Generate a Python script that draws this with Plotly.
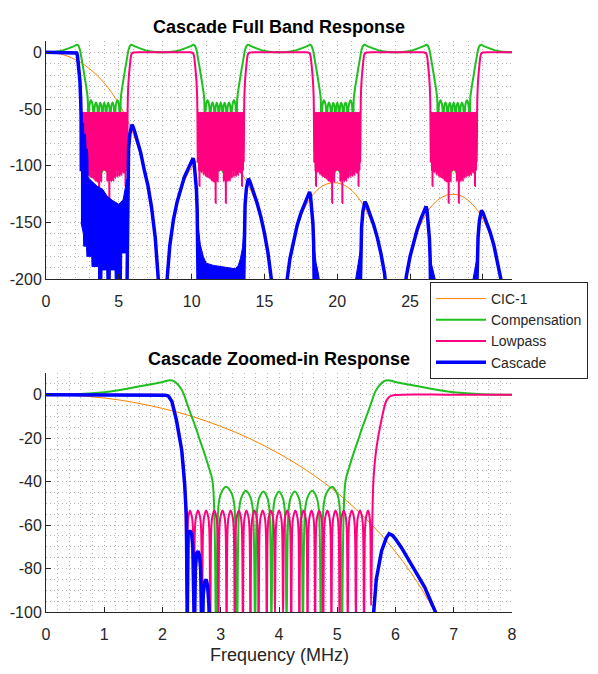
import plotly.graph_objects as go

# ---- values (frequency in MHz, magnitude in dB) ----

# CIC-1 response, full band
cic_f = [0, 0.5, 1, 1.5, 2, 2.5, 3, 3.5, 4, 4.5, 5, 5.5, 6, 6.5, 7, 7.5, 7.75, 8, 8.25,
         8.5, 9, 9.5, 10, 10.5, 11, 11.5, 12, 12.5, 13, 13.5, 14, 14.5, 15, 15.5, 16,
         16.5, 17, 17.5, 18, 18.5, 19, 19.5, 20, 20.5, 21, 21.5, 22, 22.5, 23, 23.5, 24,
         24.5, 25, 25.5, 26, 26.5, 27, 27.5, 28, 28.5, 29, 29.5, 30, 30.5, 31, 31.5, 32]
cic_db = [0, -0.4, -1.5, -3.5, -6.3, -9.9, -14.6, -20.2, -27.1, -35.3, -45.2, -57.3, -72.3,
          -91.7, -118.7, -163.7, -207, -300, -211,
          -170.9, -133.2, -113.6, -101.8, -94.6, -90.8, -89.6, -90.7, -94.1, -99.8, -108.1,
          -119.8, -136.3, -160.6, -203.2, -300,
          -206.2, -166.6, -145.3, -131.8, -123.2, -117.9, -115.4, -115.2, -117.4, -121.9,
          -129.2, -139.9, -155.3, -178.7, -220.3, -300,
          -221.6, -181.2, -159.0, -144.8, -135.4, -129.4, -126.1, -125.3, -126.7, -130.6,
          -137.2, -147.2, -162.0, -184.8, -225.8, -300]

# compensation filter, one 8 MHz period (repeats across the band)
comp_fall_f = [0, 0.5, 1.0, 1.5, 1.8, 2.0, 2.1, 2.2, 2.33, 2.42, 2.5, 2.57, 2.64, 2.72, 2.79, 2.86]
comp_fall_db = [0, 0.2, 1.1, 3.3, 4.8, 5.9, 6.6, 6.2, 2.3, -4, -10, -15, -20.8, -27, -33, -40]
comp_null_f = [2.92, 3.28, 3.59, 3.87, 4.13, 4.41, 4.72, 5.08]
comp_null_db = [-107, -110, -108, -106, -106, -108, -110, -107]
comp_peak_f = [3.09, 3.43, 3.73, 4.0, 4.27, 4.57, 4.91]
comp_peak_db = [-42.3, -44.2, -44.5, -44.5, -44.5, -44.2, -42.3]
comp_rise_f = [5.14, 5.21, 5.28, 5.36, 5.43, 5.5, 5.58, 5.67, 5.8, 5.9, 6.0, 6.2, 6.5, 7.0, 7.5, 8.0]
comp_rise_db = [-40, -33, -27, -20.8, -15, -10, -4, 2.3, 6.2, 6.6, 5.9, 4.8, 3.3, 1.1, 0.2, 0]

# lowpass filter, one 8 MHz period
lp_fall_f = [0, 1.0, 1.8, 2.0, 2.1, 2.16, 2.24, 2.33, 2.38]
lp_fall_db = [0, 0, 0, -0.1, -0.8, -3, -11.5, -25, -40]
lp_null_f = [2.42, 2.54, 2.68, 2.82, 2.96, 3.10, 3.24, 3.38, 3.51, 3.65, 3.79, 3.93,
             4.07, 4.21, 4.35, 4.49, 4.62, 4.76, 4.90, 5.04, 5.18, 5.32, 5.46, 5.58]
lp_null_db = [-97, -118, -106, -108, -109, -110, -111, -113, -114, -133, -114, -103,
              -103, -114, -133, -114, -113, -111, -110, -109, -108, -106, -118, -97]
lp_peak_f = [2.47, 2.61, 2.75, 2.89, 3.03, 3.17, 3.31, 3.44, 3.58, 3.72, 3.86, 4.00,
             4.14, 4.28, 4.42, 4.56, 4.69, 4.83, 4.97, 5.11, 5.25, 5.39, 5.53]
lp_peak_db = [-53.3, -53.3, -53.3, -53.3, -53.3, -53.3, -53.3, -53.3, -53.3, -53.3, -53.3, -53.3,
              -53.3, -53.3, -53.3, -53.3, -53.3, -53.3, -53.3, -53.3, -53.3, -53.3, -53.3]
lp_rise_f = [5.62, 5.67, 5.76, 5.84, 5.9, 6.0, 7.0, 8.0]
lp_rise_db = [-40, -25, -11.5, -3, -0.8, -0.1, 0, 0]
# solid-looking body of the stopband ripple in the full band view
lp_body_f = [2.44, 5.56]
lp_body_db = [-53.3, -104]

# shape of one stopband lobe: position between top and null, dB below the top
lobe_frac = [0.5, 0.75]
lobe_drop = [3.0, 8.3]

# cascade (None = gap where it sits below the plot)
cas_f = [0, 1.0, 1.8, 2.0, 2.05, 2.1, 2.16, 2.24, 2.33, 2.38, 2.41, 2.425,
         2.44, 2.47, 2.5, 2.52, 2.535, 2.548, 2.565, 2.585, 2.61, 2.635, 2.655, 2.68,
         2.70, 2.725, 2.75, 2.775, 2.795, 2.82, 2.9, None,
         5.56, 5.58, 5.6, 5.62, 5.67, 5.76, 5.84, 5.89, 5.95, 6.0, 6.1, 6.2, 6.36, 6.5, 6.75,
         7.0, 7.25, 7.5, 7.75, 8.0,
         8.25, 8.5, 8.75, 9.0, 9.5, 10.0, 10.1, 10.16, 10.24, 10.33, 10.38, 10.42, 10.45, None,
         13.58, 13.62, 13.67, 13.76, 13.84, 13.9, 14.0, 14.25, 14.5, 14.75, 15.0, 15.25, 15.5,
         15.75, 16.0,
         16.25, 16.5, 16.75, 17.0, 17.25, 17.5, 17.75, 18.0, 18.1, 18.16, 18.24, 18.33, 18.38,
         18.42, None,
         21.58, 21.62, 21.67, 21.76, 21.84, 21.9, 22.0, 22.25, 22.5, 22.75, 23.0, 23.25, 23.5, 24.0,
         24.5, 24.75, 25.0, 25.25, 25.5, 25.75, 26.0, 26.1, 26.16, 26.24, 26.33, 26.38, 26.42, None,
         29.58, 29.62, 29.67, 29.76, 29.84, 29.9, 30.0, 30.25, 30.5, 30.75, 31.0, 31.25, 31.5, 32.0]
cas_db = [0, 0, 0, 0, -0.2, -0.6, -3, -11.8, -25.5, -41, -56, -105,
          -64, -62.5, -64, -70, -85, -110, -80, -73, -72, -74, -80, -120,
          -92, -86, -85, -88, -96, -140, -175, None,
          -210, -170, -125, -102, -85, -72, -66, -64, -64.8, -66.4, -70.3, -75, -82, -88.5, -104,
          -117.6, -137, -163.4, -207, -300,
          -211, -170.6, -147.7, -132.1, -110.1, -95.9, -93.4, -96.2, -105.3, -121, -138.5, -160,
          -210, None,
          -200, -152, -134.7, -120.2, -112.6, -111.4, -113.9, -122.9, -133.1, -145, -159.5, -177.6,
          -203, -250, -300,
          -250, -206, -182.1, -165.5, -152.5, -142.1, -133.3, -125.9, -123.2, -126.1, -135.3,
          -151.2, -168.8, -210, None,
          -210, -172, -154.7, -140.5, -133, -131.8, -134, -142.4, -152.1, -163.5, -177.6, -195.2,
          -220, -300,
          -221.6, -197.1, -180.1, -166.7, -155.8, -146.7, -138.9, -136, -139, -148.5, -164.6,
          -182.4, -220, None,
          -210, -180.4, -163.1, -148.8, -141, -139.5, -141.3, -149.4, -158.8, -169.9, -183.7,
          -200.9, -225, -300]

# cascade, dense stopband clutter seen in the full band view (outline edges)
clutA_top_f = [2.40, 2.6, 3.0, 3.5, 3.9, 4.2, 4.6, 5.0, 5.3, 5.45, 5.55, 5.62]
clutA_top_db = [-60, -106, -112, -118, -121, -127, -131, -134, -130, -118, -112, -111]
clutA_bot_f = [5.62, 5.2, 5.18, 4.76, 4.74, 4.42, 4.4, 4.19, 4.17, 3.85, 3.83, 3.62, 3.6,
               3.16, 3.14, 2.81, 2.79, 2.59, 2.57, 2.40]
clutA_bot_db = [-177, -177, -210, -210, -192, -192, -210, -210, -192, -192, -210, -210, -189,
                -189, -180, -180, -171, -171, -160, -150]
clutB_f = [10.42, 10.5, 10.6, 10.8, 11.0, 11.5, 12.0, 12.5, 13.0, 13.2, 13.35, 13.5, 13.6]
clutB_db = [-150, -160, -170, -180, -186, -188, -189, -190, -191, -188, -182, -172, -155]
clutC1_f = [18.38, 18.45, 18.55, 18.7, 18.82]
clutC1_db = [-168, -178, -186, -195, -205]
clutC2_f = [21.2, 21.32, 21.45, 21.55, 21.62]
clutC2_db = [-205, -196, -186, -178, -172]
clutD1_f = [26.38, 26.5, 26.65, 26.82]
clutD1_db = [-182, -188, -196, -205]
clutD2_f = [29.25, 29.4, 29.52, 29.62]
clutD2_db = [-205, -196, -188, -180]

names = ['CIC-1', 'Compensation', 'Lowpass', 'Cascade']
colors = ['#FF7F00', '#1FBF1F', '#FF0080', '#0000FF']
widths = [1, 2, 2, 3.5]
shapes = ['spline', 'spline', 'spline', 'linear']

top_xticks = [0, 5, 10, 15, 20, 25, 30]
top_yticks = [-200, -150, -100, -50, 0]
bot_xticks = [0, 1, 2, 3, 4, 5, 6, 7, 8]
bot_yticks = [-100, -80, -60, -40, -20, 0]


def tile(f, db, periods=4, step=8):
    xs, ys = [], []
    for k in range(periods):
        xs += [v + step * k for v in f]
        ys += list(db)
    return xs, ys


def ripple(null_f, null_db, peak_f, peak_db):
    # nulls and lobe tops, with the lobe shoulders placed between them
    xs, ys = [], []
    for i, (pf, pd) in enumerate(zip(peak_f, peak_db)):
        left, right = null_f[i], null_f[i + 1]
        xs.append(left)
        ys.append(null_db[i])
        for fr, dr in zip(lobe_frac[::-1], lobe_drop[::-1]):
            xs.append(pf - fr * (pf - left))
            ys.append(pd - dr)
        xs.append(pf)
        ys.append(pd)
        for fr, dr in zip(lobe_frac, lobe_drop):
            xs.append(pf + fr * (right - pf))
            ys.append(pd - dr)
    xs.append(null_f[-1])
    ys.append(null_db[-1])
    return xs, ys


cx, cy = ripple(comp_null_f, comp_null_db, comp_peak_f, comp_peak_db)
comp_f = comp_fall_f + cx + comp_rise_f
comp_db = comp_fall_db + cy + comp_rise_db
lx, ly = ripple(lp_null_f, lp_null_db, lp_peak_f, lp_peak_db)
lp_f = lp_fall_f + lx + lp_rise_f
lp_db = lp_fall_db + ly + lp_rise_db

series = [(cic_f, cic_db), tile(comp_f, comp_db), tile(lp_f, lp_db), (cas_f, cas_db)]

fig = go.Figure()


def line(x, y, i, ax, show):
    fig.add_trace(go.Scatter(
        x=x, y=y, mode='lines', name=names[i], showlegend=show,
        line=dict(color=colors[i], width=widths[i], shape=shapes[i]),
        xaxis='x' + ax, yaxis='y' + ax, hoverinfo='skip'))


def patch(x, y, i):
    fig.add_trace(go.Scatter(
        x=x, y=y, mode='lines', fill='toself', fillcolor=colors[i],
        line=dict(color=colors[i], width=1), showlegend=False,
        xaxis='x', yaxis='y', hoverinfo='skip'))


# full band view
for i in range(3):
    line(*series[i], i, '', True)
for k in range(4):
    a, b = lp_body_f[0] + 8 * k, lp_body_f[1] + 8 * k
    patch([a, b, b, a], [lp_body_db[0], lp_body_db[0], lp_body_db[1], lp_body_db[1]], 2)
line(*series[3], 3, '', True)
clutter = [
    (clutA_top_f + clutA_bot_f, clutA_top_db + clutA_bot_db),
    (clutB_f + [13.6, 10.42], clutB_db + [-210, -210]),
    (clutC1_f + [18.38], clutC1_db + [-210]),
    (clutC2_f + [21.62, 21.2], clutC2_db + [-210, -210]),
    (clutD1_f + [26.38], clutD1_db + [-210]),
    (clutD2_f + [29.62, 29.25], clutD2_db + [-210, -210]),
]
for x, y in clutter:
    patch(x, y, 3)

# zoomed view
for i in range(4):
    line(*series[i], i, '2', False)

FONT = 'Liberation Sans, Arial, sans-serif'
AXC = '#262626'
GRID = '#b4b4b4'
DOTS = '1px,3px'

# the page body adds an 8 px offset, so lay out on a 590 x 666 canvas
W, H, OFF = 590, 666, 8


def px_x(x):
    return (x - OFF) / W


def px_y(y):
    return 1 - (y - OFF) / H


def axis(domain, rng, ticks, minor, anchor, standoff):
    return dict(domain=domain, range=rng, anchor=anchor, automargin=False,
                tickvals=ticks, ticktext=[str(t) for t in ticks],
                showline=True, linecolor=AXC, linewidth=1, mirror=False,
                ticks='inside', ticklen=5, tickcolor=AXC, ticklabelstandoff=standoff,
                tickfont=dict(family=FONT, size=16, color=AXC),
                showgrid=True, gridcolor=GRID, griddash=DOTS, gridwidth=1,
                zeroline=False,
                minor=dict(dtick=minor, tick0=0, showgrid=True, gridcolor=GRID,
                           griddash=DOTS, gridwidth=1, ticks=''))


xdom = [px_x(46), px_x(512)]
fig.update_layout(
    width=W, height=H, autosize=False,
    margin=dict(l=0, r=0, t=0, b=0, autoexpand=False),
    paper_bgcolor='white', plot_bgcolor='white',
    xaxis=axis(xdom, [0, 32], top_xticks, 1, 'y', 8),
    yaxis=axis([px_y(279), px_y(41)], [-200, 10], top_yticks, 10, 'x', 0),
    xaxis2=axis(xdom, [0, 8], bot_xticks, 0.2, 'y2', 8),
    yaxis2=axis([px_y(612), px_y(373)], [-100, 10], bot_yticks, 5, 'x2', 0),
    legend=dict(x=px_x(430), y=px_y(282), xanchor='left', yanchor='top',
                bgcolor='white', bordercolor=AXC, borderwidth=1,
                font=dict(family=FONT, size=14, color=AXC),
                tracegroupgap=0, itemwidth=50),
    annotations=[
        dict(text='<b>Cascade Full Band Response</b>', x=px_x(279), y=px_y(27),
             xref='paper', yref='paper', showarrow=False, xanchor='center', yanchor='middle',
             font=dict(family=FONT, size=18, color='black')),
        dict(text='<b>Cascade Zoomed-in Response</b>', x=px_x(279), y=px_y(359),
             xref='paper', yref='paper', showarrow=False, xanchor='center', yanchor='middle',
             font=dict(family=FONT, size=18, color='black')),
        dict(text='Frequency (MHz)', x=px_x(279), y=px_y(655),
             xref='paper', yref='paper', showarrow=False, xanchor='center', yanchor='middle',
             font=dict(family=FONT, size=18, color=AXC)),
    ],
)

fig.write_html("out.html")
